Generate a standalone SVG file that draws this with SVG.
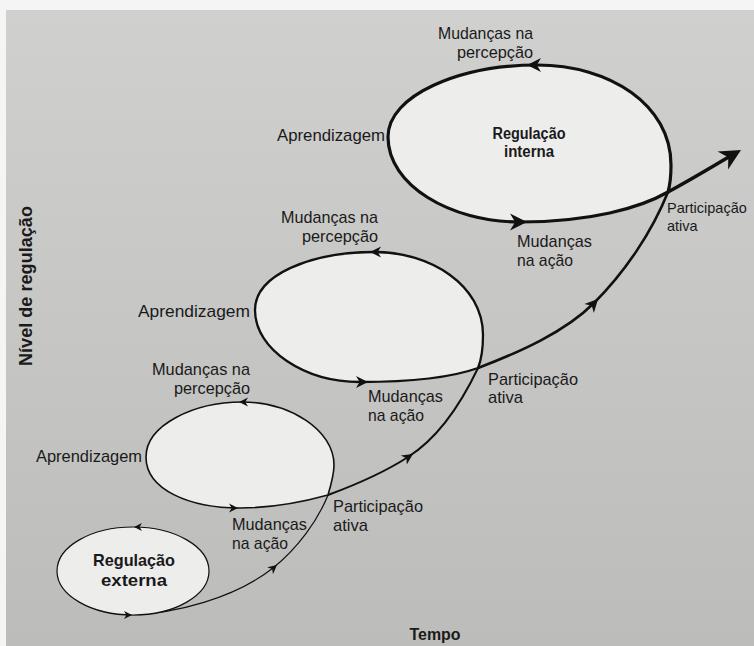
<svg xmlns="http://www.w3.org/2000/svg" xmlns:xlink="http://www.w3.org/1999/xlink" width="754" height="646" viewBox="0 0 754 646">
<style>
text{font-family:"Liberation Sans",Arial,sans-serif;font-size:17px;fill:#1a1a1a}
.b{font-weight:bold}
.e{text-anchor:end}
.m{text-anchor:middle}
.loop{fill:#ededeb;stroke:#111;stroke-linejoin:round}
.tail{fill:none;stroke:#111;stroke-linecap:round}
.ah{fill:#111}
</style>
<defs>
<linearGradient id="bg" x1="0" y1="0" x2="0" y2="1">
<stop offset="0" stop-color="#d0d0ce"/>
<stop offset="1" stop-color="#bcbcba"/>
</linearGradient>
<path id="ah" d="M0,0 L-10,-5 L-7,0 L-10,5 Z"/>
</defs>
<rect width="754" height="646" fill="#f5f5f5"/>
<rect x="6" y="10" width="748" height="636" fill="url(#bg)"/>

<g id="connectors">
<path class="tail" stroke-width="1.2" d="M128,615 C175,614 235,598 273,568 C298,548 318,520 328,495"/>
<path class="tail" stroke-width="2" d="M328,495 C355,485 385,472 408,457 C435,440 458,410 478,368"/>
<path class="tail" stroke-width="2.6" d="M478,368 C520,352 565,332 594,303 C625,272 652,232 668,192"/>
<path class="tail" stroke-width="3.5" d="M668,192 C690,180 712,167 732,155"/>
<use href="#ah" class="ah" transform="translate(277,565) rotate(-40) scale(0.9)"/>
<use href="#ah" class="ah" transform="translate(413,454) rotate(-33) scale(1.1)"/>
<use href="#ah" class="ah" transform="translate(598,299) rotate(-47) scale(1.3)"/>
<use href="#ah" class="ah" transform="translate(741,150) rotate(-30) scale(2.1)"/>
</g>

<g id="regulacao-externa">
<ellipse class="loop" stroke-width="1.2" cx="133" cy="571" rx="76" ry="44"/>
<use href="#ah" class="ah" transform="translate(134,527) rotate(180) scale(0.8)"/>
<use href="#ah" class="ah" transform="translate(132,615) scale(0.8)"/>
<text class="b m" x="134" y="566" textLength="82" lengthAdjust="spacingAndGlyphs">Regulação</text>
<text class="b m" x="134" y="586" textLength="66" lengthAdjust="spacingAndGlyphs">externa</text>
</g>

<g id="ciclo-2">
<path class="loop" stroke-width="1.6" d="M328,495 C331,485 334,475 334,465 C334,430 290,402 242,402 C194,402 146,425 146,457 C146,490 190,508 240,508 C280,508 310,500 328,495 Z"/>
<use href="#ah" class="ah" transform="translate(239,402) rotate(180) scale(0.9)"/>
<use href="#ah" class="ah" transform="translate(238,508) scale(0.9)"/>
<text class="e" x="250" y="375" textLength="98" lengthAdjust="spacingAndGlyphs">Mudanças na</text>
<text class="e" x="250" y="394" textLength="76" lengthAdjust="spacingAndGlyphs">percepção</text>
<text class="e" x="142" y="462" textLength="106" lengthAdjust="spacingAndGlyphs">Aprendizagem</text>
<text x="232" y="530" textLength="75" lengthAdjust="spacingAndGlyphs">Mudanças</text>
<text x="232" y="549" textLength="56" lengthAdjust="spacingAndGlyphs">na ação</text>
<text x="333" y="512" textLength="90" lengthAdjust="spacingAndGlyphs">Participação</text>
<text x="333" y="531" textLength="35" lengthAdjust="spacingAndGlyphs">ativa</text>
</g>

<g id="ciclo-3">
<path class="loop" stroke-width="2.3" d="M478,368 C482,358 483,347 483,335 C483,285 430,252 375,252 C310,252 255,275 255,310 C255,350 305,382 360,382 C410,382 450,378 478,368 Z"/>
<use href="#ah" class="ah" transform="translate(370,252) rotate(180) scale(1.1)"/>
<use href="#ah" class="ah" transform="translate(368,382) scale(1.2)"/>
<text class="e" x="378" y="223" textLength="97" lengthAdjust="spacingAndGlyphs">Mudanças na</text>
<text class="e" x="378" y="242" textLength="76" lengthAdjust="spacingAndGlyphs">percepção</text>
<text class="e" x="250" y="317" textLength="112" lengthAdjust="spacingAndGlyphs">Aprendizagem</text>
<text x="368" y="402" textLength="75" lengthAdjust="spacingAndGlyphs">Mudanças</text>
<text x="368" y="421" textLength="56" lengthAdjust="spacingAndGlyphs">na ação</text>
<text x="488" y="385" textLength="90" lengthAdjust="spacingAndGlyphs">Participação</text>
<text x="488" y="403" textLength="35" lengthAdjust="spacingAndGlyphs">ativa</text>
</g>

<g id="regulacao-interna">
<path class="loop" stroke-width="3.2" d="M668,192 C670,185 671,175 671,165 C671,105 610,65 537,65 C460,65 388,95 388,137 C388,185 450,222 520,222 C590,222 640,208 668,192 Z"/>
<use href="#ah" class="ah" transform="translate(527,65) rotate(180) scale(1.4)"/>
<use href="#ah" class="ah" transform="translate(527,222) scale(1.7)"/>
<text class="e" x="533" y="39" textLength="95" lengthAdjust="spacingAndGlyphs">Mudanças na</text>
<text class="e" x="533" y="58" textLength="76" lengthAdjust="spacingAndGlyphs">percepção</text>
<text class="e" x="385" y="141" textLength="108" lengthAdjust="spacingAndGlyphs">Aprendizagem</text>
<text class="b m" x="529" y="139" style="font-size:16px" textLength="73" lengthAdjust="spacingAndGlyphs">Regulação</text>
<text class="b m" x="529" y="157" style="font-size:16px" textLength="50" lengthAdjust="spacingAndGlyphs">interna</text>
<text x="517" y="247" textLength="75" lengthAdjust="spacingAndGlyphs">Mudanças</text>
<text x="517" y="266" textLength="56" lengthAdjust="spacingAndGlyphs">na ação</text>
<text x="667" y="213" style="font-size:14.5px">Participação</text>
<text x="667" y="231" style="font-size:14.5px">ativa</text>
</g>

<g id="eixos">
<text class="b m" x="435" y="640" textLength="51" lengthAdjust="spacingAndGlyphs">Tempo</text>
<text class="b m" transform="translate(32,286) rotate(-90)" style="font-size:18px" textLength="160" lengthAdjust="spacingAndGlyphs">Nível de regulação</text>
</g>
</svg>
